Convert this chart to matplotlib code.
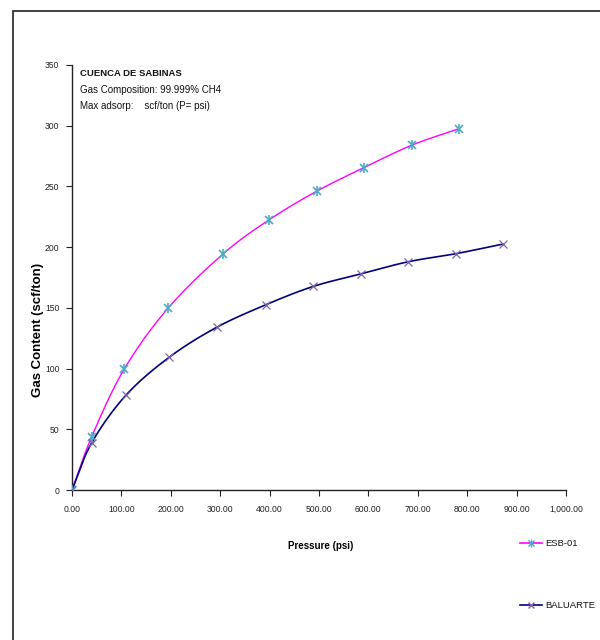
import numpy as np
import matplotlib
matplotlib.use("Agg")
import matplotlib.pyplot as plt
from matplotlib.patches import Rectangle
from matplotlib.lines import Line2D

# Data
esb_p = [0, 40, 106, 195, 306, 399, 495, 591, 688, 783]
esb_g = [0, 44, 99.8, 150, 194.5, 222.5, 246, 265.5, 284, 297.5]
bal_p = [0, 40, 109, 197, 293, 392, 488, 585, 681, 777, 872]
bal_g = [0, 39, 78, 109.4, 134, 152.5, 167.6, 178, 188, 194.6, 202.5]
series_names = ["ESB-01", "BALUARTE"]
xticks = [0, 100, 200, 300, 400, 500, 600, 700, 800, 900, 1000]
xtick_labels = ["0.00", "100.00", "200.00", "300.00", "400.00", "500.00",
                "600.00", "700.00", "800.00", "900.00", "1,000.00"]
yticks = [0, 50, 100, 150, 200, 250, 300, 350]

FONT = ["Liberation Sans", "DejaVu Sans"]
plt.rcParams['font.family'] = FONT


def smooth(x, y, n=20):
    x = np.asarray(x, float)
    y = np.asarray(y, float)
    px = np.concatenate([[2 * x[0] - x[1]], x, [2 * x[-1] - x[-2]]])
    py = np.concatenate([[2 * y[0] - y[1]], y, [2 * y[-1] - y[-2]]])
    ox, oy = [], []
    for i in range(1, len(px) - 2):
        t = np.linspace(0, 1, n, endpoint=False)
        for arr, out in ((px, ox), (py, oy)):
            p0, p1, p2, p3 = arr[i - 1], arr[i], arr[i + 1], arr[i + 2]
            out.extend(0.5 * ((2 * p1) + (-p0 + p2) * t +
                              (2 * p0 - 5 * p1 + 4 * p2 - p3) * t ** 2 +
                              (-p0 + 3 * p1 - 3 * p2 + p3) * t ** 3))
    ox.append(x[-1])
    oy.append(y[-1])
    return np.array(ox), np.array(oy)


W, H = 600, 640
fig = plt.figure(figsize=(W / 100, H / 100), dpi=100)

# outer border
fig.patches.append(Rectangle((13 / W, -0.05), 1.1, 1 - 11 / H + 0.05,
                             transform=fig.transFigure, fill=False,
                             edgecolor="#222222", linewidth=1.2))

left, right, bottom, top = 72, 566, 490, 65
ax = fig.add_axes([left / W, 1 - bottom / H, (right - left) / W, (bottom - top) / H])
ax.set_xlim(0, 1000)
ax.set_ylim(0, 350)
for s in ("top", "right"):
    ax.spines[s].set_visible(False)
for s in ("left", "bottom"):
    ax.spines[s].set_color("#222222")
    ax.spines[s].set_linewidth(1.0)

ax.set_xticks(xticks)
ax.set_xticklabels(xtick_labels)
ax.set_yticks(yticks)
ax.tick_params(axis="both", direction="out", length=4, width=0.8,
               labelsize=6.2, colors="#222222")
ax.tick_params(axis="x", pad=7)
ax.tick_params(axis="y", pad=5)

# ESB-01
sx, sy = smooth(esb_p, esb_g)
ax.plot(sx, sy, color="#FF00FF", lw=1.0, zorder=2)
ax.plot(esb_p, esb_g, ls="none", marker="x", ms=6, mew=1.2, color="#4BACC6", zorder=3)
ax.plot(esb_p, esb_g, ls="none", marker="|", ms=7, mew=1.2, color="#4BACC6", zorder=3)

# BALUARTE
bx, by = smooth(bal_p, bal_g)
ax.plot(bx, by, color="#000080", lw=1.2, zorder=2)
ax.plot(bal_p, bal_g, ls="none", marker="x", ms=6, mew=0.9, color="#8064A2", zorder=3)

# annotations
fig.text(80 / W, 1 - 74 / H, "CUENCA DE SABINAS", fontsize=6.8, fontweight="bold",
         va="center", ha="left", color="#111111")
fig.text(80 / W, 1 - 90 / H, "Gas Composition: 99.999% CH4", fontsize=7,
         va="center", ha="left", color="#111111")
fig.text(80 / W, 1 - 106 / H, "Max adsorp:    scf/ton (P= psi)", fontsize=7,
         va="center", ha="left", color="#111111")

fig.text(38 / W, 1 - 330 / H, "Gas Content (scf/ton)", rotation=90, fontsize=9.5,
         fontweight="bold", va="center", ha="center")
fig.text(321 / W, 1 - 546 / H, "Pressure (psi)", fontsize=7, fontweight="bold",
         va="center", ha="center")

# legend
for yy, name, lc, mc, mk in ((543, series_names[0], "#FF00FF", "#4BACC6", "*"),
                             (605, series_names[1], "#000080", "#8064A2", "x")):
    yf = 1 - yy / H
    fig.lines.append(Line2D([520 / W, 542 / W], [yf, yf], color=lc, lw=1.2,
                            transform=fig.transFigure))
    fig.lines.append(Line2D([531 / W], [yf], ls="none", marker="x", ms=5, mew=1.0,
                            color=mc, transform=fig.transFigure))
    if mk == "*":
        fig.lines.append(Line2D([531 / W], [yf], ls="none", marker="|", ms=6, mew=1.0,
                                color=mc, transform=fig.transFigure))
    fig.text(545 / W, yf, name, fontsize=6.8, va="center", ha="left", color="#111111")

fig.savefig("out.png", dpi=100, facecolor="white")
